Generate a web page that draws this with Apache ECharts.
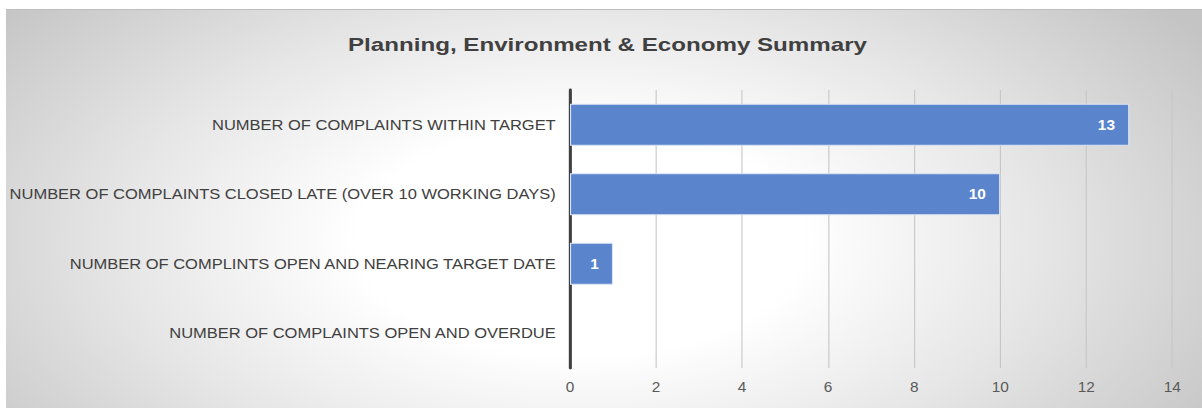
<!DOCTYPE html>
<html>
<head>
<meta charset="utf-8">
<script src="https://cdn.jsdelivr.net/npm/echarts@6/dist/echarts.min.js"></script>
<style>
  html, body { margin: 0; padding: 0; background: #fff; overflow: hidden; }
  #bg {
    position: absolute; left: 6px; top: 9px; width: 1196px; height: 399px;
    border-top: 1px solid #bdbdbd;
    background: radial-gradient(ellipse 62% 95% at 48% 58%, #ffffff 0%, #ffffff 30%, #e6e6e6 62%, #c4c4c4 100%);
  }
  /* the source picture is a bit wider than tall, so the chart is stretched sideways */
  #chart {
    position: absolute; left: 0; top: 0; width: 1092.73px; height: 408px;
    transform: scaleX(1.1); transform-origin: 0 0;
  }
</style>
</head>
<body>
<div id="bg"></div>
<div id="chart"></div>
<script>
const titleText = 'Planning, Environment & Economy Summary';
const categories = [
  'NUMBER OF COMPLAINTS WITHIN TARGET',
  'NUMBER OF COMPLAINTS CLOSED LATE (OVER 10 WORKING DAYS)',
  'NUMBER OF COMPLINTS OPEN AND NEARING TARGET DATE',
  'NUMBER OF COMPLAINTS OPEN AND OVERDUE'
];
const counts = [13, 10, 1, 0];
const axisMax = 14;
const axisStep = 2;

const SX = 1.1; // horizontal stretch applied by css
const chart = echarts.init(document.getElementById('chart'), null, { renderer: 'svg' });
chart.setOption({
  animation: false,
  textStyle: { fontFamily: 'Liberation Sans, Arial, sans-serif' },
  graphic: [{
    type: 'text',
    x: 607.5 / SX,
    y: 44,
    scaleX: 1.155,
    style: {
      text: titleText,
      fill: '#404040',
      font: 'bold 19px "Liberation Sans", Arial, sans-serif',
      textAlign: 'center',
      textVerticalAlign: 'middle'
    }
  }],
  grid: { left: 570 / SX, right: 30 / SX, top: 90, bottom: 40, containLabel: false },
  xAxis: {
    type: 'value',
    min: 0, max: axisMax, interval: axisStep,
    axisLine: { show: false },
    axisTick: { show: false },
    splitLine: { lineStyle: { color: '#c6c6c6', width: 1 } },
    axisLabel: { color: '#595959', fontSize: 14, margin: 12 }
  },
  yAxis: {
    type: 'category',
    inverse: true,
    data: categories,
    axisLine: { show: true, lineStyle: { color: '#404040', width: 2.8 } },
    axisTick: { show: false },
    axisLabel: { color: '#404040', fontSize: 15, margin: 13 }
  },
  series: [{
    type: 'bar',
    data: counts.map((v) => v === 0 ? null : v),
    barWidth: 42,
    itemStyle: { color: '#5a84cc', borderColor: '#dbe4f4', borderWidth: 1 },
    label: {
      show: true,
      position: 'insideRight',
      distance: 13,
      color: '#fff',
      fontSize: 14,
      fontWeight: 'bold'
    }
  }]
});
</script>
</body>
</html>
